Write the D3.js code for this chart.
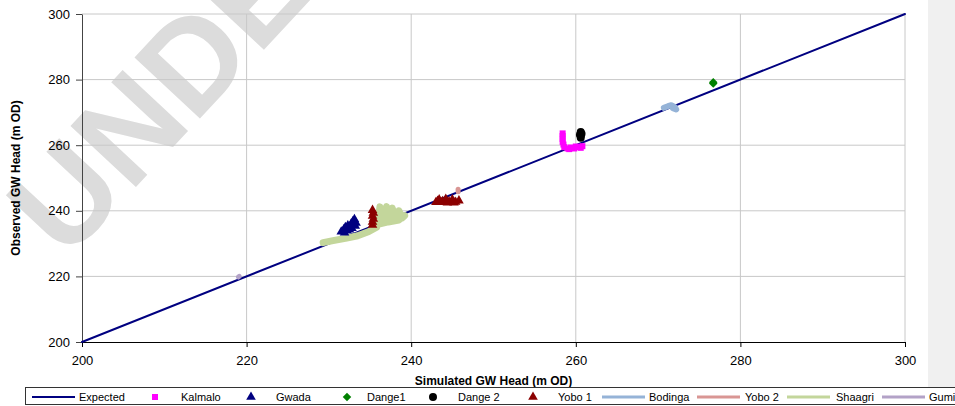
<!DOCTYPE html>
<html>
<head>
<meta charset="utf-8">
<script src="https://cdn.jsdelivr.net/npm/d3@7"></script>
<style>
  body { margin: 0; background: #fff; }
  svg { display: block; font-family: "Liberation Sans", Arial, sans-serif; }
</style>
</head>
<body>
<script>
// plot box inside the 955x406 page
var margin = {top: 14, right: 50, bottom: 64, left: 82},
    width = 955 - margin.left - margin.right,
    height = 406 - margin.top - margin.bottom;

// axis ticks
var xTicks = [200, 220, 240, 260, 280, 300];
var yTicks = [200, 220, 240, 260, 280, 300];

// series values [simulated, observed]
var expected = [[200, 200], [300, 300]];
var kalmalo = [[258.4, 263.6], [258.4, 262.8], [258.4, 261.9], [258.4, 261.0], [258.5, 260.2],
               [258.6, 259.4], [259.0, 259.0], [259.4, 259.3], [259.8, 259.0], [260.2, 259.4],
               [260.6, 259.2], [260.8, 259.7], [260.0, 259.6], [259.2, 258.8]];
var gwada = [[231.5, 233.6], [231.8, 234.3], [232.0, 235.0], [232.3, 235.5], [232.5, 234.2],
             [232.7, 236.0], [232.9, 236.7], [233.1, 237.4], [233.3, 236.3], [232.2, 233.9],
             [231.9, 233.3], [232.8, 234.7], [233.2, 235.4]];
var dange1 = [[276.7, 278.8], [276.7, 279.2]];
var dange2 = [[260.6, 262.3], [260.6, 262.9], [260.7, 263.5], [260.6, 264.0], [260.5, 263.2]];
var yobo1 = [[235.3, 235.7], [235.3, 236.6], [235.4, 237.5], [235.3, 238.4], [235.4, 239.3],
             [235.3, 240.2], [243.0, 242.6], [243.4, 243.4], [243.8, 242.9], [244.2, 243.6],
             [244.6, 242.8], [245.0, 243.4], [245.4, 242.7], [245.8, 243.1], [244.4, 242.5],
             [243.6, 242.6], [245.2, 242.5], [243.2, 243.0]];
var bodinga = [[270.7, 271.4], [271.2, 271.9], [271.6, 272.2], [272.0, 271.7], [272.2, 270.9],
               [271.8, 271.3]];
var yobo2 = [[245.7, 245.8], [245.7, 246.6]];
var shaagri = [[229.3, 230.3], [230.5, 230.9], [232.0, 231.6], [233.5, 232.4], [234.8, 233.6],
               [235.8, 235.0], [236.0, 237.5], [236.2, 241.2], [236.6, 237.3], [237.0, 241.3],
               [237.3, 237.4], [237.7, 240.8], [238.1, 237.6], [238.5, 240.0], [238.9, 237.8],
               [239.2, 238.5], [238.5, 237.2], [237.2, 236.6], [236.2, 236.0]];
var gumi = [[219.0, 219.8], [219.1, 220.0]];

var names = ["Expected", "Kalmalo", "Gwada", "Dange1", "Dange 2", "Yobo 1", "Bodinga", "Yobo 2", "Shaagri", "Gumi"];

var series = [
  {name: "Expected", data: expected, kind: "line", color: "#000080", w: 2},
  {name: "Bodinga", data: bodinga, kind: "line", color: "#95b3d7", w: 6},
  {name: "Yobo 2", data: yobo2, kind: "line", color: "#d99694", w: 5},
  {name: "Shaagri", data: shaagri, kind: "line", color: "#c3d69b", w: 7},
  {name: "Gumi", data: gumi, kind: "line", color: "#b3a2c7", w: 5},
  {name: "Kalmalo", data: kalmalo, kind: "point", color: "#ff00ff", sym: d3.symbolSquare, size: 36, rot: 0},
  {name: "Gwada", data: gwada, kind: "point", color: "#000080", sym: d3.symbolTriangle, size: 40, rot: 0},
  {name: "Dange1", data: dange1, kind: "point", color: "#008000", sym: d3.symbolSquare, size: 36, rot: 45},
  {name: "Dange 2", data: dange2, kind: "point", color: "#000000", sym: d3.symbolCircle, size: 50, rot: 0},
  {name: "Yobo 1", data: yobo1, kind: "point", color: "#8b0000", sym: d3.symbolTriangle, size: 40, rot: 0}
];

var xScale = d3.scaleLinear().domain([200, 300]).range([0, width]);
var yScale = d3.scaleLinear().domain([200, 300]).range([height, 0]);

var svg = d3.select("body").append("svg")
    .attr("width", 955)
    .attr("height", 406);

// grey side panel
svg.append("rect").attr("x", 928).attr("y", 0).attr("width", 27).attr("height", 387).attr("fill", "#f0f0f0");

// watermark
svg.append("text")
    .attr("transform", "translate(66,262) rotate(-47)")
    .attr("font-size", 130)
    .attr("font-weight", "bold")
    .attr("fill", "#dcdcdc")
    .text("UNDER REVIEW");

var g = svg.append("g")
    .attr("transform", "translate(" + margin.left + "," + margin.top + ")");

// gridlines
g.selectAll(".gx").data(xTicks.slice(1)).enter().append("line")
    .attr("x1", d => xScale(d)).attr("x2", d => xScale(d))
    .attr("y1", 0).attr("y2", height)
    .attr("stroke", "#c8c8c8");
g.selectAll(".gy").data(yTicks.slice(1)).enter().append("line")
    .attr("x1", 0).attr("x2", width)
    .attr("y1", d => yScale(d)).attr("y2", d => yScale(d))
    .attr("stroke", "#c8c8c8");

// axes
var xAxis = g.append("g")
    .attr("transform", "translate(0," + height + ")")
    .call(d3.axisBottom(xScale).tickValues(xTicks).tickSize(5).tickPadding(9).tickSizeOuter(0));
xAxis.select(".domain").attr("stroke", "#000");
xAxis.selectAll("text").attr("font-size", 13).attr("fill", "#000").attr("font-family", "Liberation Sans, Arial");

var yAxis = g.append("g")
    .call(d3.axisLeft(yScale).tickValues(yTicks).tickSize(6).tickPadding(6).tickSizeOuter(0));
yAxis.select(".domain").attr("stroke", "#444");
yAxis.selectAll("line").attr("stroke", "#444");
yAxis.selectAll("text").attr("font-size", 13).attr("fill", "#000").attr("font-family", "Liberation Sans, Arial");

// axis titles
svg.append("text")
    .attr("x", margin.left + width / 2).attr("y", 385)
    .attr("text-anchor", "middle").attr("font-size", 12).attr("font-weight", "bold")
    .text("Simulated GW Head (m OD)");
svg.append("text")
    .attr("transform", "translate(20," + (margin.top + height / 2) + ") rotate(-90)")
    .attr("text-anchor", "middle").attr("font-size", 12).attr("font-weight", "bold")
    .text("Observed GW Head (m OD)");

// data
var line = d3.line().x(d => xScale(d[0])).y(d => yScale(d[1]));

series.forEach(function(s) {
  if (s.kind === "line") {
    g.append("path")
      .datum(s.data)
      .attr("d", line)
      .attr("fill", "none")
      .attr("stroke", s.color)
      .attr("stroke-width", s.w)
      .attr("stroke-linejoin", "round")
      .attr("stroke-linecap", "round");
  } else {
    g.selectAll(null).data(s.data).enter().append("path")
      .attr("d", d3.symbol().type(s.sym).size(s.size))
      .attr("transform", d => "translate(" + xScale(d[0]) + "," + yScale(d[1]) + ") rotate(" + s.rot + ")")
      .attr("fill", s.color);
  }
});

// legend
var legendPos = {
  "Expected": [32, 79], "Kalmalo": [155, 181], "Gwada": [251, 276], "Dange1": [347, 367],
  "Dange 2": [433, 458], "Yobo 1": [533, 558], "Bodinga": [602, 649], "Yobo 2": [697, 745],
  "Shaagri": [787, 836], "Gumi": [882, 929]
};
var legend = svg.append("g");
legend.append("rect").attr("x", 25.5).attr("y", 387.5).attr("width", 940).attr("height", 17)
    .attr("fill", "#fff").attr("stroke", "#333");

names.forEach(function(n) {
  var s = series.find(d => d.name === n);
  var p = legendPos[n];
  if (s.kind === "line") {
    legend.append("line").attr("x1", p[0]).attr("x2", p[0] + 43)
      .attr("y1", 397).attr("y2", 397)
      .attr("stroke", s.color).attr("stroke-width", s.name === "Expected" ? 2 : 3);
  } else {
    legend.append("path")
      .attr("d", d3.symbol().type(s.sym).size(s.size))
      .attr("transform", "translate(" + p[0] + ",397) rotate(" + s.rot + ")")
      .attr("fill", s.color);
  }
  legend.append("text").attr("x", p[1]).attr("y", 401)
    .attr("font-size", 11).text(n);
});
</script>
</body>
</html>
